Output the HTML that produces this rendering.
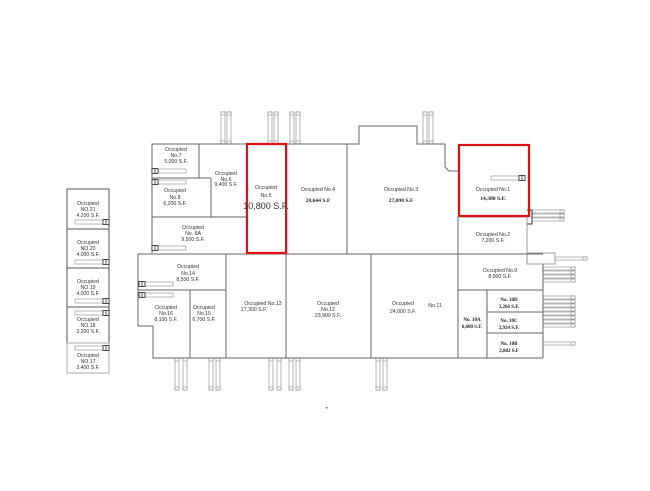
<!DOCTYPE html>
<html><head><meta charset="utf-8"><style>
html,body{margin:0;padding:0;background:#fff;width:650px;height:491px;overflow:hidden}
svg{display:block}
text{font-family:"Liberation Sans",sans-serif;font-size:5.2px;fill:#333;text-anchor:middle}
.b{font-family:"Liberation Serif",serif;font-weight:bold;font-size:5.6px;fill:#222}
.w{fill:none;stroke:#666;stroke-width:1}
.d{fill:#fff;stroke:#888;stroke-width:0.6}
</style></head><body>
<svg width="650" height="491" viewBox="0 0 650 491">
<defs>
<g id="vd"><rect class="d" x="0" y="0" width="4" height="32"/><rect class="d" x="0" y="0" width="4" height="3"/><rect class="d" x="0" y="29" width="4" height="3"/></g>
<g id="hd"><rect class="d" x="0" y="0" width="32" height="3"/><rect class="d" x="28" y="0" width="4" height="3"/></g>
<g id="lb"><rect fill="#fff" stroke="#888" stroke-width="0.6" x="6" y="0" width="28" height="4"/><rect fill="#fff" stroke="#222" stroke-width="0.8" x="0" y="-0.5" width="6" height="5"/><line x1="3" y1="-0.5" x2="3" y2="4.5" stroke="#222" stroke-width="0.8"/></g>
</defs>

<!-- left column -->
<g class="w" style="stroke:#555">
<rect x="67" y="189" width="42" height="40"/>
<rect x="67" y="229" width="42" height="39"/>
<rect x="67" y="268" width="42" height="39"/>
<rect x="67" y="307" width="42" height="36"/>
<rect x="67" y="343" width="42" height="30" style="stroke:#aaa"/>
</g>
<text x="88" y="205">Occupied</text><text x="88" y="211">NO.21</text><text x="88" y="217">4,200 S.F.</text>
<text x="88" y="244">Occupied</text><text x="88" y="250">NO.20</text><text x="88" y="256">4,000 S.F.</text>
<text x="88" y="283">Occupied</text><text x="88" y="289">NO.19</text><text x="88" y="295">4,000 S.F.</text>
<text x="88" y="321">Occupied</text><text x="88" y="327">NO.18</text><text x="88" y="333">3,200 S.F.</text>
<text x="88" y="357">Occupied</text><text x="88" y="363">NO.17</text><text x="88" y="369">3,400 S.F.</text>
<g transform="translate(109,220) scale(-1,1)"><use href="#lb"/></g>
<g transform="translate(109,260) scale(-1,1)"><use href="#lb"/></g>
<g transform="translate(109,299) scale(-1,1)"><use href="#lb"/></g>
<g transform="translate(109,311) scale(-1,1)"><use href="#lb"/></g>
<g transform="translate(109,346) scale(-1,1)"><use href="#lb"/></g>

<!-- top docks -->
<use href="#vd" x="221" y="112"/><use href="#vd" x="227" y="112"/>
<use href="#vd" x="268" y="112"/><use href="#vd" x="274" y="112"/>
<use href="#vd" x="290" y="112"/><use href="#vd" x="296" y="112"/>
<use href="#vd" x="423" y="112"/><use href="#vd" x="429" y="112"/>
<!-- bottom docks -->
<use href="#vd" x="175" y="358"/><use href="#vd" x="183" y="358"/>
<use href="#vd" x="209" y="358"/><use href="#vd" x="216" y="358"/>
<use href="#vd" x="269" y="358"/><use href="#vd" x="277" y="358"/>
<use href="#vd" x="289" y="358"/><use href="#vd" x="296" y="358"/>
<use href="#vd" x="376" y="358"/><use href="#vd" x="383" y="358"/>
<!-- right docks -->
<use href="#hd" x="532" y="210"/><use href="#hd" x="532" y="214"/><use href="#hd" x="532" y="218"/>
<use href="#hd" x="555" y="257"/>
<use href="#hd" x="543" y="267"/><use href="#hd" x="543" y="271"/><use href="#hd" x="543" y="275"/><use href="#hd" x="543" y="279"/>
<use href="#hd" x="543" y="296"/><use href="#hd" x="543" y="300"/><use href="#hd" x="543" y="304"/><use href="#hd" x="543" y="308"/><use href="#hd" x="543" y="312"/><use href="#hd" x="543" y="316"/><use href="#hd" x="543" y="320"/><use href="#hd" x="543" y="324"/>
<use href="#hd" x="543" y="342"/>

<!-- walls -->
<g class="w">
<polyline points="152,253 152,144 347,144 359,144 359,126 417,126 417,144 445,144 445,167 449,171 458,171"/>
<line x1="199" y1="144" x2="199" y2="178"/>
<line x1="152" y1="178" x2="211" y2="178"/>
<line x1="211" y1="178" x2="211" y2="217"/>
<line x1="152" y1="217" x2="246" y2="217"/>
<line x1="347" y1="144" x2="347" y2="254"/>
<line x1="458" y1="217" x2="458" y2="358"/>
<polyline points="458,217 527,217 527,264 555,264 555,253 527,253" style="stroke:#999"/>
<line x1="543" y1="264" x2="543" y2="358"/>
<polyline points="527,210 532,210 532,224 527,224" style="stroke:#333"/>
<polyline points="152,254 138,254 138,326 153,326 153,358 543,358"/>
<line x1="138" y1="254" x2="543" y2="254"/>
<line x1="138" y1="290" x2="226" y2="290"/>
<line x1="190" y1="290" x2="190" y2="358"/>
<line x1="226" y1="254" x2="226" y2="358"/>
<line x1="286" y1="254" x2="286" y2="358"/>
<line x1="371" y1="254" x2="371" y2="358"/>
<line x1="458" y1="290" x2="543" y2="290"/>
<line x1="487" y1="290" x2="487" y2="358"/>
<line x1="487" y1="312" x2="543" y2="312"/>
<line x1="487" y1="333" x2="543" y2="333"/>
</g>
<!-- interior bars -->
<use href="#lb" x="152" y="169"/>
<use href="#lb" x="152" y="180"/>
<use href="#lb" x="152" y="246"/>
<use href="#lb" x="139" y="282"/>
<use href="#lb" x="139" y="293"/>
<g transform="translate(525,176) scale(-1,1)"><use href="#lb"/></g>

<!-- red boxes -->
<rect x="247" y="144" width="39" height="109" fill="none" stroke="#e01010" stroke-width="2.2"/>
<rect x="459" y="145" width="70" height="71" fill="none" stroke="#e01010" stroke-width="2.2"/>

<!-- labels -->
<text x="176" y="151">Occupied</text><text x="176" y="157">No.7</text><text x="176" y="163">5,000 S.F.</text>
<text x="226" y="175">Occupied</text><text x="226" y="181">No.6</text><text x="226" y="186">9,400 S.F.</text>
<text x="175" y="192">Occupied</text><text x="175" y="199">No.8</text><text x="175" y="205">6,200 S.F.</text>
<text x="193" y="229">Occupied</text><text x="193" y="235">No. 8A</text><text x="193" y="241">9,500 S.F.</text>
<text x="266" y="189">Occupied</text><text x="266" y="197">No.5</text>
<text x="266" y="209" style="font-size:9px">10,800 S.F.</text>
<text x="318" y="191">Occupied No.4</text><text class="b" x="318" y="202">20,644 S.F</text>
<text x="401" y="191">Occupied No.3</text><text class="b" x="401" y="202">27,098 S.F</text>
<text x="493" y="191">Occupied No.1</text><text class="b" x="493" y="200">14,300 S.F.</text>
<text x="493" y="236">Occupied No.2</text><text x="493" y="242">7,200 S.F.</text>
<text x="188" y="268">Occupied</text><text x="188" y="275">No.14</text><text x="188" y="281">8,500 S.F.</text>
<text x="166" y="309">Occupied</text><text x="166" y="315">No.16</text><text x="166" y="321">8,100 S.F.</text>
<text x="204" y="309">Occupied</text><text x="204" y="315">No.15</text><text x="204" y="321">6,700 S.F.</text>
<text x="263" y="305">Occupied  No.13</text><text x="254" y="311">17,300 S.F.</text>
<text x="328" y="305">Occupied</text><text x="328" y="311">No.12</text><text x="328" y="317">23,900 S.F.</text>
<text x="403" y="305">Occupied</text><text x="435" y="307">No.11</text><text x="403" y="313">24,000 S.F.</text>
<text x="500" y="272">Occupied No.9</text><text x="500" y="278">8,000 S.F.</text>
<text class="b" x="472" y="321" style="font-size:5px">No. 10A</text><text class="b" x="472" y="328" style="font-size:5px">6,600 S.F.</text>
<text class="b" x="509" y="301" style="font-size:5px">No. 10D</text><text class="b" x="509" y="308" style="font-size:5px">3,266 S.F.</text>
<text class="b" x="509" y="322" style="font-size:5px">No. 10C</text><text class="b" x="509" y="329" style="font-size:5px">2,924 S.F.</text>
<text class="b" x="509" y="345" style="font-size:5px">No. 10B</text><text class="b" x="509" y="352" style="font-size:5px">2,882 S.F</text>
<rect x="326" y="407" width="1.5" height="1.5" fill="#555"/>
</svg>
</body></html>
